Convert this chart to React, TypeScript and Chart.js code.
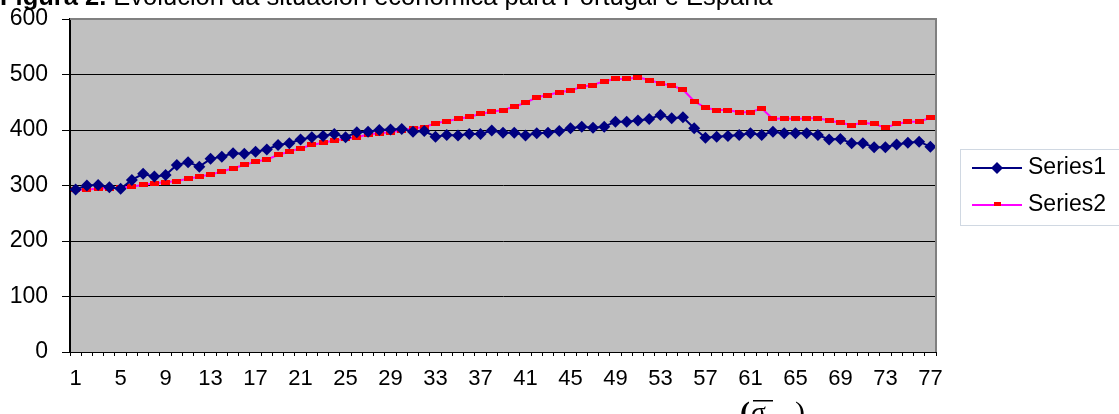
import React, { useEffect, useRef } from "react";
import { Chart, registerables } from "chart.js";

Chart.register(...registerables);

const categories: string[] = Array.from({ length: 77 }, (_, i) => String(i + 1));

const series1: number[] = [
  293, 300, 301, 297, 294, 310, 321, 316, 319, 337, 342, 334, 348, 352, 358, 357,
  361, 365, 373, 376, 383, 387, 389, 393, 387, 396, 397, 400, 401, 402, 397, 398,
  388, 391, 390, 393, 393, 399, 395, 395, 390, 394, 395, 398, 403, 406, 404, 406,
  415, 415, 417, 420, 427, 421, 423, 403, 386, 388, 389, 391, 394, 391, 397, 394,
  394, 394, 391, 383, 384, 376, 376, 369, 369, 374, 377, 379, 370,
];

const series2: number[] = [
  292, 293, 294, 295, 296, 298, 301, 304, 306, 308, 312, 316, 320, 325, 331, 337,
  343, 347, 355, 361, 367, 373, 377, 381, 384, 387, 392, 394, 396, 399, 403, 405,
  412, 416, 420, 424, 429, 433, 436, 442, 449, 459, 463, 468, 471, 478, 481, 488,
  492, 492, 495, 490, 484, 480, 473, 452, 440, 436, 436, 432, 432, 439, 420, 421,
  420, 421, 421, 417, 413, 409, 413, 411, 404, 411, 415, 415, 422,
];

const seriesNames: string[] = ["Series1", "Series2"];
const yTicks: number[] = [0, 100, 200, 300, 400, 500, 600];
const titleBold = "Figura 2.";
const titleRest = " Evolución da situación económica para Portugal e España";

const FONT = "Arial, 'Liberation Sans', sans-serif";

export default function App() {
  const ref = useRef<HTMLCanvasElement | null>(null);

  useEffect(() => {
    document.body.style.margin = "0";
    const canvas = ref.current;
    if (!canvas) return;

    const dash = document.createElement("canvas");
    dash.width = 9;
    dash.height = 5;
    const dctx = dash.getContext("2d")!;
    dctx.fillStyle = "#FF0000";
    dctx.fillRect(0, 0, 9, 5);

    const decor = {
      id: "decor",
      beforeDraw(chart: any) {
        const { ctx, chartArea } = chart;
        ctx.save();
        ctx.fillStyle = "#FFFFFF";
        ctx.fillRect(0, 0, chart.width, chart.height);
        ctx.fillStyle = "#C0C0C0";
        ctx.fillRect(chartArea.left, chartArea.top, chartArea.right - chartArea.left, chartArea.bottom - chartArea.top);
        ctx.restore();
      },
      afterDraw(chart: any) {
        const { ctx, chartArea } = chart;
        ctx.save();
        // plot border (gray top/right)
        ctx.strokeStyle = "#808080";
        ctx.lineWidth = 2;
        ctx.beginPath();
        ctx.moveTo(chartArea.left, chartArea.top);
        ctx.lineTo(chartArea.right, chartArea.top);
        ctx.lineTo(chartArea.right, chartArea.bottom);
        ctx.stroke();
        // title (cut at top)
        ctx.fillStyle = "#000";
        ctx.textBaseline = "alphabetic";
        ctx.textAlign = "left";
        ctx.font = `bold 25.5px ${FONT}`;
        ctx.fillText(titleBold, 0, 5);
        const w = ctx.measureText(titleBold).width;
        ctx.font = `25.5px ${FONT}`;
        ctx.fillText(titleRest, w, 5);
        // legend
        const lx = 960, ly = 149;
        ctx.strokeStyle = "#D0D8E2";
        ctx.lineWidth = 1;
        ctx.strokeRect(lx + 0.5, ly + 0.5, 170, 76);
        ctx.font = `23px ${FONT}`;
        ctx.textBaseline = "middle";
        // series1
        ctx.strokeStyle = "#000080";
        ctx.lineWidth = 2;
        ctx.beginPath();
        ctx.moveTo(972, 168);
        ctx.lineTo(1022, 168);
        ctx.stroke();
        ctx.fillStyle = "#000080";
        ctx.beginPath();
        ctx.moveTo(997, 162);
        ctx.lineTo(1003, 168);
        ctx.lineTo(997, 174);
        ctx.lineTo(991, 168);
        ctx.closePath();
        ctx.fill();
        ctx.fillStyle = "#000";
        ctx.fillText(seriesNames[0], 1028, 168);
        // series2
        ctx.strokeStyle = "#FF00FF";
        ctx.beginPath();
        ctx.moveTo(972, 205);
        ctx.lineTo(1022, 205);
        ctx.stroke();
        ctx.fillStyle = "#FF0000";
        ctx.fillRect(994, 202, 7, 4);
        ctx.fillStyle = "#000";
        ctx.fillText(seriesNames[1], 1028, 205);
        // formula fragment at bottom
        ctx.font = `bold 30px 'Liberation Serif', 'DejaVu Serif', serif`;
        ctx.textBaseline = "alphabetic";
        ctx.fillText("(", 740, 422);
        ctx.font = `italic 28px 'Liberation Serif', 'DejaVu Serif', serif`;
        ctx.fillText("σ", 751, 421);
        ctx.fillRect(753, 400, 20, 1.5);
        ctx.font = `30px 'Liberation Serif', 'DejaVu Serif', serif`;
        ctx.fillText(")", 795, 422);
        ctx.restore();
      },
    };

    const chart = new Chart(canvas, {
      type: "line",
      data: {
        labels: categories,
        datasets: [
          {
            label: seriesNames[0],
            data: series1,
            borderColor: "#000080",
            backgroundColor: "#000080",
            borderWidth: 2,
            pointStyle: "rectRot",
            pointRadius: 6,
            pointBorderWidth: 0,
            pointBackgroundColor: "#000080",
            tension: 0,
          },
          {
            label: seriesNames[1],
            data: series2,
            borderColor: "#FF00FF",
            backgroundColor: "#FF0000",
            borderWidth: 2,
            pointStyle: dash as any,
            pointRadius: 4,
            tension: 0,
          },
        ],
      },
      options: {
        animation: false,
        responsive: false,
        maintainAspectRatio: false,
        layout: { padding: { left: 0, right: 183, top: 19, bottom: 0 } },
        plugins: {
          legend: { display: false },
          tooltip: { enabled: false },
          title: { display: false },
        },
        scales: {
          x: {
            type: "category",
            offset: true,
            grid: {
              display: true,
              drawOnChartArea: false,
              drawTicks: true,
              tickLength: 4,
              color: "#000",
              offset: true,
            },
            border: { color: "#000", width: 1 },
            ticks: {
              autoSkip: false,
              maxRotation: 0,
              minRotation: 0,
              color: "#000",
              padding: 10,
              font: { family: FONT, size: 22 },
              callback: (_v: any, i: number) => (i % 4 === 0 ? categories[i] : ""),
            },
            afterFit: (s: any) => {
              s.height = 62;
              s.paddingLeft = 0;
              s.paddingRight = 0;
            },
          },
          y: {
            min: 0,
            max: 600,
            afterBuildTicks: (s: any) => {
              s.ticks = yTicks.map((v) => ({ value: v }));
            },
            grid: {
              color: "#000",
              lineWidth: 1,
              tickLength: 8,
              drawTicks: true,
            },
            border: { color: "#000", width: 2 },
            ticks: {
              color: "#000",
              padding: 14,
              font: { family: FONT, size: 23 },
            },
            afterFit: (s: any) => {
              s.width = 70;
              s.paddingTop = 0;
              s.paddingBottom = 0;
            },
          },
        },
      },
      plugins: [decor],
    });

    return () => chart.destroy();
  }, []);

  return (
    <div style={{ width: 1119, height: 414 }}>
      <canvas ref={ref} width={1119} height={414} style={{ display: "block", width: 1119, height: 414 }} />
    </div>
  );
}
